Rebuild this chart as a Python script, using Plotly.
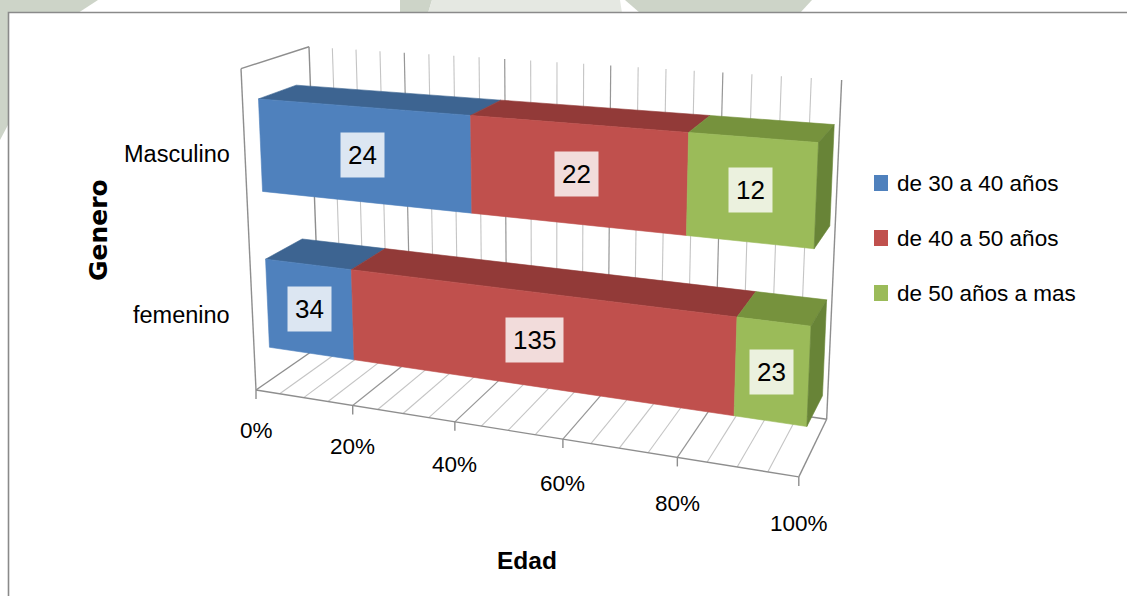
import plotly.graph_objects as go

# ---- data -------------------------------------------------------------
categories = ["femenino", "Masculino"]
series_names = ["de 30 a 40 años", "de 40 a 50 años", "de 50 años a mas"]
femenino = [34, 135, 23]
masculino = [24, 22, 12]
tick_values = [0.0, 0.2, 0.4, 0.6, 0.8, 1.0]
tick_labels = ["0%", "20%", "40%", "60%", "80%", "100%"]
x_title = "Edad"
y_title = "Genero"

# ---- styling ----------------------------------------------------------
front_colors = ["#4F81BD", "#C0504D", "#9BBB59"]
top_colors = ["#3D6491", "#923A38", "#76923D"]
side_colors = ["#34557C", "#7D3230", "#688437"]
label_bg = ["#DCE6F2", "#F2DCDB", "#EBF1DE"]
FONT = "Liberation Sans, Arial, sans-serif"

W, H = 1127, 596

# perspective camera of the 3-D plot box:
# u = share along the value axis (0..1), d = depth (0 front .. 1 back wall),
# h = height along the category axis (0 floor .. 1 top of the wall)
CAM = [[436.8, 88.9, -26.7, 256.0],
       [23.6, -17.2, -324.7, 390.0],
       [-0.1327, 0.0783, -0.04854, 1.0]]


def proj(u, d, h):
    px = CAM[0][0] * u + CAM[0][1] * d + CAM[0][2] * h + CAM[0][3]
    py = CAM[1][0] * u + CAM[1][1] * d + CAM[1][2] * h + CAM[1][3]
    pw = CAM[2][0] * u + CAM[2][1] * d + CAM[2][2] * h + CAM[2][3]
    return px / pw, py / pw


GAP_WIDTH = 0.75          # category gap relative to bar thickness
BAR_D0, BAR_D1 = 0.22, 0.78
MINOR_STEP = 0.05

fig = go.Figure()


def add_lines(segments, color, width):
    xs, ys = [], []
    for (p, q) in segments:
        xs += [p[0], q[0], None]
        ys += [p[1], q[1], None]
    fig.add_trace(go.Scatter(x=xs, y=ys, mode="lines",
                             line=dict(color=color, width=width),
                             hoverinfo="skip", showlegend=False))


def add_face(corners, color):
    pts = [proj(*c) for c in corners]
    fig.add_trace(go.Scatter(x=[p[0] for p in pts] + [pts[0][0]],
                             y=[p[1] for p in pts] + [pts[0][1]],
                             mode="lines", fill="toself", fillcolor=color,
                             line=dict(color=color, width=0.6),
                             hoverinfo="skip", showlegend=False))


# ---- walls, floor and gridlines ---------------------------------------
n_steps = int(round(1 / MINOR_STEP))
grid_u = [i * MINOR_STEP for i in range(n_steps + 1)]
is_major = [any(abs(g - t) < 1e-9 for t in tick_values) for g in grid_u]

minor, major = [], []
for g, mj in zip(grid_u, is_major):
    back_wall = (proj(g, 1, 0), proj(g, 1, 1))
    floor = (proj(g, 0, 0), proj(g, 1, 0))
    target = major if mj else minor
    if 0 < g < 1:
        target.append(back_wall)
        target.append(floor)

add_lines(minor, "#C4C4C4", 1.1)
add_lines(major, "#969696", 1.2)

frame = [
    (proj(0, 0, 0), proj(0, 0, 1)),   # side wall, front edge
    (proj(0, 0, 1), proj(0, 1, 1)),   # side wall, top edge
    (proj(0, 1, 0), proj(0, 1, 1)),   # back wall, left edge
    (proj(1, 1, 0), proj(1, 1, 1)),   # back wall, right edge
    (proj(0, 0, 0), proj(0, 1, 0)),   # floor, left edge
    (proj(1, 0, 0), proj(1, 1, 0)),   # floor, right edge
    (proj(0, 0, 0), proj(1, 0, 0)),   # floor, front edge (value axis)
    (proj(0, 1, 0), proj(1, 1, 0)),   # floor, back edge
]
for t in tick_values:
    x0, y0 = proj(t, 0, 0)
    frame.append(((x0, y0), (x0, y0 + 9)))
add_lines(frame, "#8E8E8E", 1.4)

# ---- stacked 100 % bars -----------------------------------------------
band = 1.0 / len(categories)
thick = band / (1 + GAP_WIDTH)
bars = [femenino, masculino]

annotations = []
for ci, values in enumerate(bars):
    hc = band * (ci + 0.5)
    h0, h1 = hc - thick / 2, hc + thick / 2
    total = float(sum(values))
    start = 0.0
    for si, v in enumerate(values):
        u0, u1 = start, start + v / total
        start = u1
        # top face
        add_face([(u0, BAR_D0, h1), (u1, BAR_D0, h1), (u1, BAR_D1, h1), (u0, BAR_D1, h1)],
                 top_colors[si])
        # front face
        add_face([(u0, BAR_D0, h0), (u1, BAR_D0, h0), (u1, BAR_D0, h1), (u0, BAR_D0, h1)],
                 front_colors[si])
        if si == len(values) - 1:
            add_face([(u1, BAR_D0, h0), (u1, BAR_D1, h0), (u1, BAR_D1, h1), (u1, BAR_D0, h1)],
                     side_colors[si])
        lx, ly = proj((u0 + u1) / 2, BAR_D0, hc)
        annotations.append(dict(x=lx, y=ly, xref="x", yref="y", text=str(v),
                                showarrow=False, bgcolor=label_bg[si], borderpad=7,
                                font=dict(family=FONT, size=26, color="#000000")))
    # category label
    cx, _ = proj(0, 0, 0)
    _, cy = proj(0, 0, hc)
    annotations.append(dict(x=cx - 24, y=cy + 2, xref="x", yref="y", text=categories[ci],
                            showarrow=False, xanchor="right", yanchor="middle",
                            font=dict(family=FONT, size=23.5, color="#000000")))

# value-axis tick labels
for t, lab in zip(tick_values, tick_labels):
    tx, ty = proj(t, 0, 0)
    annotations.append(dict(x=tx, y=ty + 40 + 7 * t, xref="x", yref="y", text=lab,
                            showarrow=False, xanchor="center", yanchor="middle",
                            font=dict(family=FONT, size=22.5, color="#000000")))

# axis titles
annotations.append(dict(x=527, y=560, xref="x", yref="y", text="<b>%s</b>" % x_title,
                        showarrow=False, font=dict(family=FONT, size=24.5, color="#000000")))
annotations.append(dict(x=98, y=230, xref="x", yref="y", text="<b>%s</b>" % y_title,
                        showarrow=False, textangle=-90,
                        font=dict(family="DejaVu Sans", size=25, color="#000000")))

# ---- legend ---------------------------------------------------------------
shapes = []
legend_rows = [183, 238, 293]
for name, col, ry in zip(series_names, front_colors, legend_rows):
    shapes.append(dict(type="rect", xref="x", yref="y", x0=874, x1=888, y0=ry - 8, y1=ry + 8,
                       fillcolor=col, line=dict(width=0)))
    annotations.append(dict(x=895, y=ry, xref="x", yref="y", text=name, showarrow=False,
                            xanchor="left", yanchor="middle",
                            font=dict(family=FONT, size=22.5, color="#000000")))

# ---- page background, faint watermark strip and chart border -----------------
wm = "rgba(196,205,190,0.85)"
wm_light = "rgba(226,229,223,0.9)"
for poly, col in [
    ("M0,0 L98,0 L78,13 L0,13 Z", wm),
    ("M0,13 L8,13 L8,125 L0,140 Z", wm),
    ("M400,0 L432,0 L428,13 L400,13 Z", wm),
    ("M432,0 L620,0 L622,13 L428,13 Z", wm_light),
    ("M625,0 L812,0 L800,13 L640,13 Z", wm),
]:
    shapes.append(dict(type="path", path=poly, xref="x", yref="y", fillcolor=col,
                       line=dict(width=0), layer="below"))
shapes.append(dict(type="rect", xref="x", yref="y", x0=8.5, y0=12.5, x1=W + 5, y1=H + 5,
                   line=dict(color="#8A8A8A", width=1.6), fillcolor="rgba(0,0,0,0)",
                   layer="below"))

fig.update_layout(
    width=W, height=H, margin=dict(l=0, r=0, t=0, b=0),
    paper_bgcolor="#FFFFFF", plot_bgcolor="#FFFFFF",
    xaxis=dict(range=[0, W], visible=False, fixedrange=True),
    yaxis=dict(range=[H, 0], visible=False, fixedrange=True),
    showlegend=False, shapes=shapes, annotations=annotations,
)

fig.write_html("out.html")
